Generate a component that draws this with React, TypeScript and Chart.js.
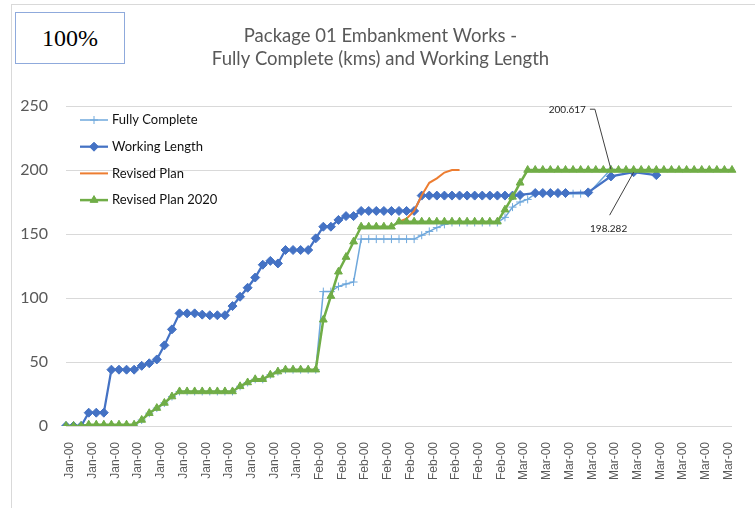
import React, { useEffect, useRef } from 'react';
import { Chart, registerables } from 'chart.js';
import { drawPoint } from 'chart.js/helpers';

Chart.register(...registerables);

// ---- DATA ----
const categories: string[] = [
  ...Array(31).fill('Jan-00'),
  ...Array(27).fill('Feb-00'),
  ...Array(31).fill('Mar-00'),
];

const yTicks = [0, 50, 100, 150, 200, 250];

const fullyComplete: (number | null)[] = [
  0, 0, 0,
  1, 1, 1, 1, 1, 1, 1,
  4.7, 10, 14, 18, 23,
  27, 27, 27, 27, 27, 27, 27, 27,
  31, 34, 36.5, 36.5, 40, 42.5,
  44, 44, 44, 44, 44,
  105, 105, 109, 111, 112.5,
  146, 146, 146, 146, 146, 146, 146, 146,
  149, 152, 155, 157.5,
  159, 159, 159, 159, 159, 159, 159,
  163, 171, 175, 177,
  181.5, 181.5, 181.5, 181.5, 181.5, 181.5, 181.5, 181.5,
  null, null,
  200.617,
  null, null, null, null, null, null, null, null, null, null, null, null, null, null, null, null,
];

const workingLength: (number | null)[] = [
  0, 0, 0,
  10.4, 10.4, 10.4,
  44, 44, 44, 44,
  47, 49, 52, 63, 75.5,
  88, 88, 88, 87, 86.5, 86.5, 86.5,
  93.7, 101, 108, 116, 126, 129, 127,
  137.5, 137.5, 137.5, 137.5,
  146.6, 155.7, 155.7, 161, 164, 164,
  168, 168, 168, 168, 168, 168, 168, 168,
  180, 180, 180, 180, 180, 180, 180, 180, 180, 180, 180, 180, 180, 180.5,
  null,
  182, 182, 182, 182, 182,
  null, null,
  182.5,
  null, null,
  195,
  null, null,
  198.282,
  null, null,
  196,
  null, null, null, null, null, null, null, null, null, null,
];

const revisedPlan: (number | null)[] = [
  null, null, null, null, null, null, null, null, null, null, null,
  null, null, null, null, null, null, null, null, null, null, null,
  null, null, null, null, null, null, null, null, null, null, null,
  null, null, null, null, null, null, null, null, null, null, null,
  159.6, 162, 168, 180, 190, 193.5, 198, 200, 200,
  null, null, null, null, null, null, null, null, null, null, null, null,
  null, null, null, null, null, null, null, null, null, null, null, null,
  null, null, null, null, null, null, null, null, null, null, null, null,
];

const revisedPlan2020: number[] = [
  0, 0, 0,
  1, 1, 1, 1, 1, 1, 1,
  4.7, 10, 14, 18, 23,
  27, 27, 27, 27, 27, 27, 27, 27,
  31, 34, 36.5, 36.5, 40, 42.5,
  44, 44, 44, 44, 44,
  83, 101.5, 120.5, 132, 144,
  155.7, 155.7, 155.7, 155.7, 155.7,
  159.6, 159.6, 159.6, 159.6, 159.6, 159.6, 159.6, 159.6, 159.6, 159.6, 159.6, 159.6, 159.6, 159.6,
  169, 179, 190,
  200, 200, 200, 200, 200, 200, 200, 200, 200, 200, 200, 200, 200, 200,
  200, 200, 200, 200, 200, 200, 200, 200, 200, 200, 200, 200, 200, 200,
];

// points that carry a data label: [datasetIndex, pointIndex]
const labelledPoints: [number, number][] = [
  [0, 72],
  [1, 75],
];

const titleLines = ['Package 01 Embankment Works -', 'Fully Complete (kms) and Working Length'];

// ---- STYLE ----
const FONT = 'Lato, "Open Sans", sans-serif';
const C_FC = '#6fa8dc';
const C_WL = '#4472c4';
const C_RP = '#ed7d31';
const C_RP20 = '#70ad47';

// label placement relative to its point: text anchor + leader line path
const labelStyles = [
  { dx: -25, dy: -59, align: 'right', path: [[-21, -60], [-16, -60], [0, 0]] },
  { dx: -25, dy: 57, align: 'center', path: [[-24, 43], [0, 0]] },
];

const titlePlugin = {
  id: 'twoLineTitle',
  afterDraw(chart: any) {
    const { ctx } = chart;
    ctx.save();
    ctx.fillStyle = '#595959';
    ctx.font = `18.5px ${FONT}`;
    ctx.textAlign = 'center';
    ctx.textBaseline = 'middle';
    const cx = chart.width / 2 + 3;
    titleLines.forEach((t, i) => ctx.fillText(t, cx, 36 + i * 23.5));
    ctx.restore();
  },
};

const insideLegend = {
  id: 'insideLegend',
  afterDraw(chart: any) {
    const { ctx, chartArea } = chart;
    const x0 = chartArea.left + 14;
    let y = chartArea.top + 14;
    chart.data.datasets.forEach((ds: any) => {
      ctx.save();
      ctx.strokeStyle = ds.borderColor;
      ctx.lineWidth = ds.borderWidth;
      ctx.beginPath();
      ctx.moveTo(x0, y);
      ctx.lineTo(x0 + 28, y);
      ctx.stroke();
      if (ds.pointRadius > 0) {
        ctx.fillStyle = ds.pointBackgroundColor;
        ctx.strokeStyle = ds.pointBorderColor;
        ctx.lineWidth = ds.pointBorderWidth;
        drawPoint(ctx, { pointStyle: ds.pointStyle, rotation: 0, radius: ds.pointRadius, borderWidth: ds.pointBorderWidth }, x0 + 14, y);
      }
      ctx.fillStyle = '#111';
      ctx.font = `13px ${FONT}`;
      ctx.textBaseline = 'middle';
      ctx.textAlign = 'left';
      ctx.fillText(ds.label, x0 + 32, y);
      ctx.restore();
      y += 26.7;
    });
  },
};

const pointLabels = {
  id: 'pointLabels',
  afterDatasetsDraw(chart: any) {
    const { ctx } = chart;
    labelledPoints.forEach(([dsi, idx], k) => {
      const el = chart.getDatasetMeta(dsi).data[idx];
      const v = chart.data.datasets[dsi].data[idx];
      if (!el || v == null) return;
      const st = labelStyles[k];
      ctx.save();
      ctx.strokeStyle = '#404040';
      ctx.lineWidth = 1;
      ctx.beginPath();
      st.path.forEach(([px, py], j) => {
        if (j === 0) ctx.moveTo(el.x + px, el.y + py);
        else ctx.lineTo(el.x + px, el.y + py);
      });
      ctx.stroke();
      ctx.fillStyle = '#262626';
      ctx.font = `10px ${FONT}`;
      ctx.textAlign = st.align;
      ctx.textBaseline = 'middle';
      ctx.fillText(String(v), el.x + st.dx, el.y + st.dy);
      ctx.restore();
    });
  },
};

export default function App() {
  const ref = useRef<HTMLCanvasElement>(null);

  useEffect(() => {
    const chart = new Chart(ref.current as HTMLCanvasElement, {
      type: 'line',
      data: {
        labels: categories,
        datasets: [
          {
            label: 'Fully Complete',
            data: fullyComplete,
            borderColor: C_FC,
            backgroundColor: C_FC,
            borderWidth: 1.5,
            pointStyle: 'cross',
            pointRadius: 4,
            pointBorderWidth: 1,
            pointBorderColor: C_FC,
            pointBackgroundColor: C_FC,
            spanGaps: true,
            order: 3,
          },
          {
            label: 'Working Length',
            data: workingLength,
            borderColor: C_WL,
            backgroundColor: C_WL,
            borderWidth: 2.25,
            pointStyle: 'rectRot',
            pointRadius: 4.5,
            pointBorderWidth: 1,
            pointBorderColor: C_WL,
            pointBackgroundColor: C_WL,
            spanGaps: true,
            order: 2,
          },
          {
            label: 'Revised Plan',
            data: revisedPlan,
            borderColor: C_RP,
            backgroundColor: C_RP,
            borderWidth: 2,
            pointRadius: 0,
            pointStyle: false as any,
            spanGaps: false,
            order: 1,
          },
          {
            label: 'Revised Plan 2020',
            data: revisedPlan2020,
            borderColor: C_RP20,
            backgroundColor: C_RP20,
            borderWidth: 2.5,
            pointStyle: 'triangle',
            pointRadius: 4.5,
            pointBorderWidth: 1,
            pointBorderColor: C_RP20,
            pointBackgroundColor: C_RP20,
            order: 0,
          },
        ] as any,
      },
      options: {
        animation: false,
        responsive: false,
        devicePixelRatio: 1,
        layout: { padding: { left: 0, right: 23, top: 106, bottom: 0 } },
        plugins: {
          legend: { display: false },
          tooltip: { enabled: false },
          title: { display: false },
        },
        scales: {
          x: {
            type: 'category',
            offset: false,
            grid: { display: false },
            border: { display: false },
            ticks: {
              autoSkip: false,
              minRotation: 90,
              maxRotation: 90,
              padding: 8,
              labelOffset: 4,
              color: '#595959',
              font: { family: '"Liberation Sans", Arial, sans-serif', size: 12 },
              callback: function (this: any, value: any, index: number) {
                return index % 3 === 0 ? this.getLabelForValue(value) : '';
              },
            },
            afterFit: (scale: any) => {
              scale.height = 82;
            },
          },
          y: {
            min: yTicks[0],
            max: yTicks[yTicks.length - 1],
            border: { display: false },
            grid: { color: '#d9d9d9', lineWidth: 1, drawTicks: false },
            ticks: {
              stepSize: yTicks[1] - yTicks[0],
              padding: 18,
              color: '#595959',
              font: { family: FONT, size: 16 },
            },
            afterFit: (scale: any) => {
              scale.width = 66;
            },
          },
        },
      } as any,
      plugins: [titlePlugin, insideLegend, pointLabels],
    });
    return () => chart.destroy();
  }, []);

  return (
    <div style={{ position: 'fixed', left: 0, top: 0, width: 755, height: 508, background: '#fff', overflow: 'hidden' }}>
      <div
        style={{
          position: 'absolute',
          left: 11,
          top: 4,
          width: 800,
          height: 600,
          border: '1px solid #d9d9d9',
          boxSizing: 'border-box',
        }}
      />
      <canvas
        ref={ref}
        width={755}
        height={508}
        style={{ position: 'absolute', left: 0, top: 0, width: 755, height: 508, display: 'block' }}
      />
      <div
        style={{
          position: 'absolute',
          left: 15,
          top: 12,
          width: 108,
          height: 50,
          border: '1px solid #8faadc',
          background: '#fff',
          display: 'flex',
          alignItems: 'center',
          justifyContent: 'center',
          fontFamily: '"Liberation Serif", "Times New Roman", serif',
          fontSize: 24,
          color: '#000',
        }}
      >
        100%
      </div>
    </div>
  );
}
